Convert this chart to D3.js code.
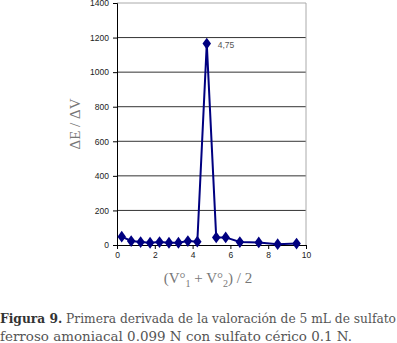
<!DOCTYPE html>
<html>
<head>
<meta charset="utf-8">
<script src="https://cdn.jsdelivr.net/npm/d3@7"></script>
<style>
  body { margin: 0; background: #fff; }
  svg { display: block; }
</style>
</head>
<body>
<div class="canvas"></div>
<script>
// volume medio (mL) y primera derivada
const volumes = [0.25, 0.75, 1.25, 1.75, 2.25, 2.75, 3.25, 3.75, 4.25, 4.75, 5.25, 5.75, 6.5, 7.5, 8.5, 9.5];
const derivs  = [48, 23, 17, 13, 17, 13, 13, 23, 19, 1165, 44, 44, 17, 15, 5, 8];
const xTicks = [0, 2, 4, 6, 8, 10];
const yTicks = [0, 200, 400, 600, 800, 1000, 1200, 1400];
const peakLabel = "4,75";

const width = 397;
const height = 343;
const margin = { top: 3, right: 91, bottom: 98, left: 117 };

const x = d3.scaleLinear().domain([0, 10]).range([margin.left, width - margin.right]);
const y = d3.scaleLinear().domain([0, 1400]).range([height - margin.bottom, margin.top]);

const svg = d3.select(".canvas").append("svg")
  .attr("width", width)
  .attr("height", height);

// gridlines
svg.append("g")
  .selectAll("line")
  .data(yTicks.slice(1))
  .join("line")
    .attr("x1", x(0)).attr("x2", x(10))
    .attr("y1", d => y(d)).attr("y2", d => y(d))
    .attr("stroke", d => d === 1400 ? "#aaa" : "#333")
    .attr("stroke-width", 1);

// right border
svg.append("line")
  .attr("x1", x(10)).attr("x2", x(10))
  .attr("y1", y(1400)).attr("y2", y(0))
  .attr("stroke", "#aaa");

const yAxis = svg.append("g")
  .attr("transform", `translate(${margin.left},0)`)
  .call(d3.axisLeft(y).tickValues(yTicks).tickSize(4).tickPadding(4).tickFormat(d3.format("d")));

const xAxis = svg.append("g")
  .attr("transform", `translate(0,${y(0)})`)
  .call(d3.axisBottom(x).tickValues(xTicks).tickSize(4).tickPadding(3));

[yAxis, xAxis].forEach(g => {
  g.select(".domain").attr("stroke", "#000");
  g.selectAll(".tick line").attr("stroke", "#000");
  g.selectAll(".tick text")
    .attr("fill", "#222")
    .style("font-family", "Liberation Sans, Arial, sans-serif")
    .style("font-size", "8.5px");
});

// line
const line = d3.line()
  .x((d, i) => x(volumes[i]))
  .y(d => y(d));

svg.append("path")
  .datum(derivs)
  .attr("fill", "none")
  .attr("stroke", "#000080")
  .attr("stroke-width", 2)
  .attr("d", line);

svg.append("g")
  .selectAll("path")
  .data(derivs)
  .join("path")
    .attr("d", d3.symbol(d3.symbolDiamond, 40))
    .attr("transform", (d, i) => `translate(${x(volumes[i])},${y(d)}) scale(1.25,1)`)
    .attr("fill", "#000080");

// peak label (clipped like the original)
svg.append("clipPath").attr("id", "lblclip")
  .append("rect").attr("x", 0).attr("y", 0).attr("width", 236).attr("height", height);

const peakI = derivs.indexOf(d3.max(derivs));
svg.append("text")
  .attr("clip-path", "url(#lblclip)")
  .attr("x", x(volumes[peakI]) + 11)
  .attr("y", y(derivs[peakI]) + 4)
  .attr("fill", "#555")
  .style("font-family", "Liberation Sans, Arial, sans-serif")
  .style("font-size", "8.5px")
  .text(peakLabel);

// axis titles
svg.append("text")
  .attr("transform", `translate(80,124) rotate(-90)`)
  .attr("text-anchor", "middle")
  .attr("fill", "#777")
  .style("font-family", "Liberation Serif, Times New Roman, serif")
  .style("font-size", "15px")
  .text("ΔE / ΔV");

const xt = svg.append("text")
  .attr("x", 208)
  .attr("y", 283)
  .attr("text-anchor", "middle")
  .attr("fill", "#777")
  .style("font-family", "Liberation Serif, Times New Roman, serif")
  .style("font-size", "15px");
xt.append("tspan").text("(V°");
xt.append("tspan").attr("dy", 4).style("font-size", "10px").text("1");
xt.append("tspan").attr("dy", -4).text(" + V°");
xt.append("tspan").attr("dy", 4).style("font-size", "10px").text("2");
xt.append("tspan").attr("dy", -4).text(") / 2");

// caption
const cap1 = svg.append("text")
  .attr("x", 0).attr("y", 323)
  .attr("fill", "#555")
  .attr("textLength", 396)
  .attr("lengthAdjust", "spacingAndGlyphs")
  .style("font-family", "DejaVu Serif, serif")
  .style("font-size", "13px");
cap1.append("tspan").attr("font-weight", "bold").attr("fill", "#333").text("Figura 9.");
cap1.append("tspan").text(" Primera derivada de la valoración de 5 mL de sulfato");

svg.append("text")
  .attr("x", 0).attr("y", 341)
  .attr("fill", "#555")
  .attr("textLength", 352)
  .attr("lengthAdjust", "spacingAndGlyphs")
  .style("font-family", "DejaVu Serif, serif")
  .style("font-size", "13px")
  .text("ferroso amoniacal 0.099 N con sulfato cérico 0.1 N.");
</script>
</body>
</html>
